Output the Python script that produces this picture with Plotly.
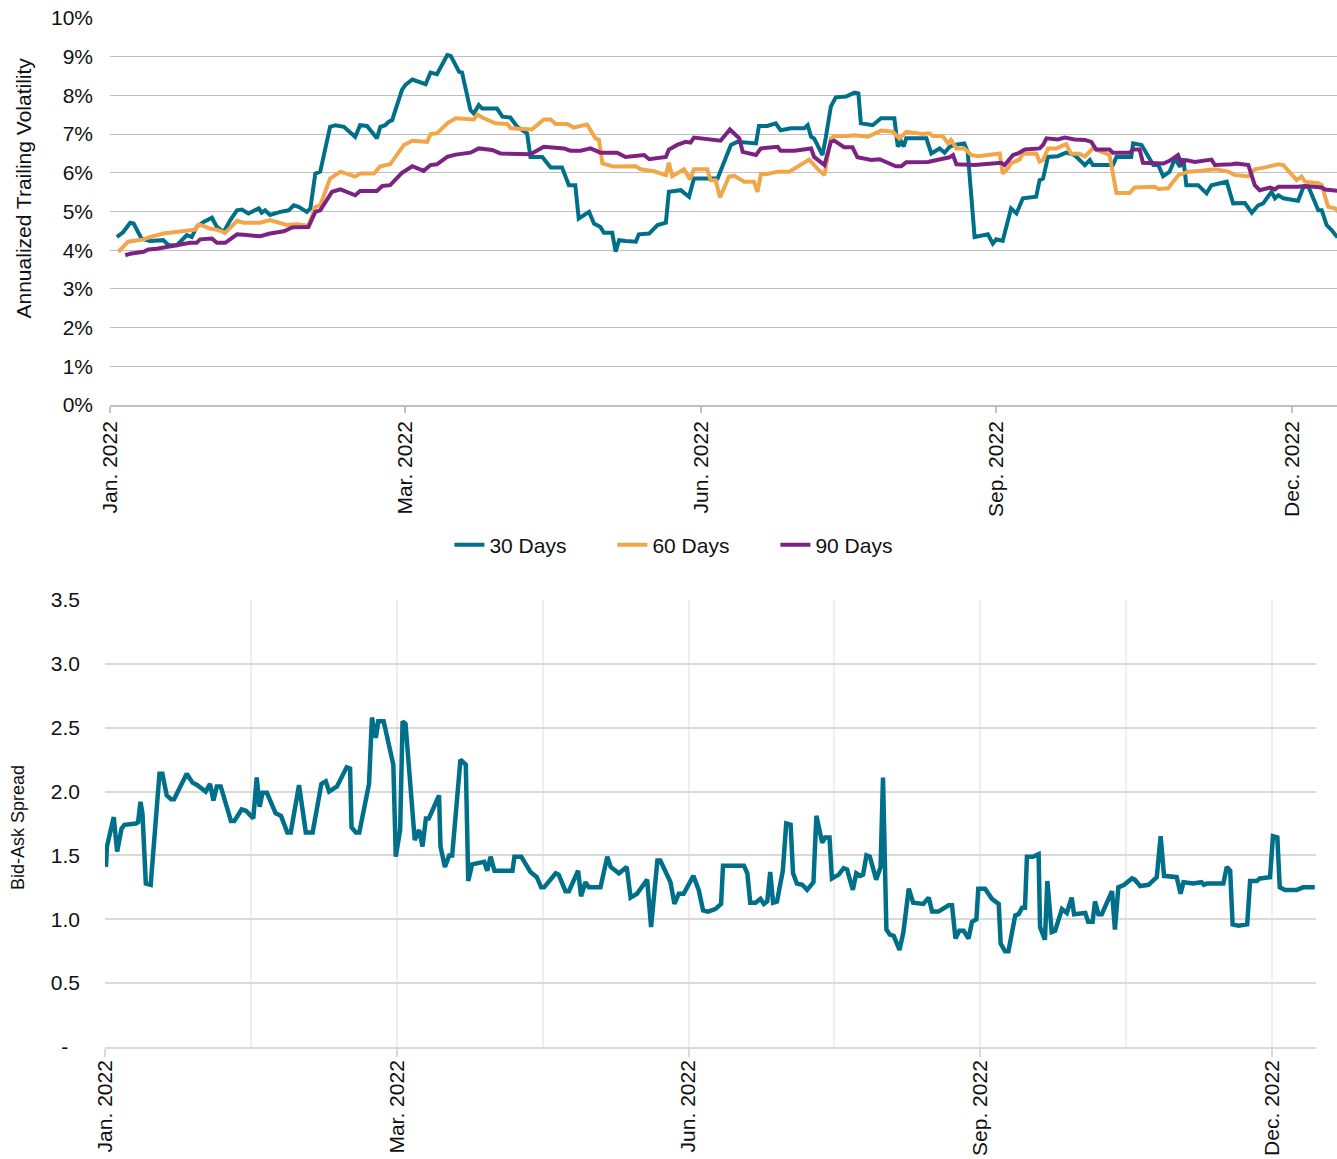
import plotly.graph_objects as go

# ---------------- data ----------------
tick_vals = [0, 60, 120, 180, 240]
tick_labels = ["Jan. 2022", "Mar. 2022", "Jun. 2022", "Sep. 2022", "Dec. 2022"]

vol30_x = [1.4, 2.7, 4.1, 4.8, 6.4, 8.1, 10.8, 11.9, 13.6, 15.6, 16.6, 17.6, 19.0, 20.7, 21.7, 23.1, 24.4, 25.8, 26.8, 28.1,
           30.2, 30.8, 31.5, 32.5, 34.6, 36.3, 37.3, 38.3, 40.0, 40.7, 41.7, 42.7, 44.7, 45.8, 47.5, 49.8, 50.8, 52.2, 54.2, 54.9,
           55.9, 56.6, 57.3, 59.3, 60.0, 61.4, 64.1, 65.1, 66.4, 68.5, 69.2, 70.9, 71.5, 73.2, 73.9, 74.9, 75.6, 78.6, 79.7, 81.3,
           82.7, 84.7, 85.4, 87.8, 89.5, 91.8, 93.2, 94.5, 95.2, 97.3, 98.3, 99.6, 100.3, 102.0, 102.7, 103.4, 104.7, 106.8, 107.4, 109.5,
           111.2, 112.9, 113.5, 115.9, 117.6, 118.6, 123.4, 126.1, 127.4, 131.2, 131.8, 133.5, 135.2, 136.2, 138.3, 141.0, 141.7, 142.4, 143.0, 144.7,
           145.4, 146.4, 147.4, 149.5, 151.2, 152.0, 152.5, 154.9, 156.6, 159.3, 160.0, 160.7, 161.2, 161.7, 165.8, 166.8, 168.5, 169.5, 170.5, 171.5,
           173.5, 174.2, 175.6, 178.3, 179.3, 180.0, 181.3, 183.0, 184.1, 185.4, 188.1, 188.8, 189.5, 190.5, 192.5, 194.2, 195.9, 198.0, 199.0, 199.6,
           203.7, 204.4, 207.4, 207.8, 209.5, 211.9, 212.9, 213.9, 215.2, 216.3, 217.3, 218.0, 218.6, 221.0, 222.7, 223.7, 226.8, 228.1, 230.5, 231.9,
           233.2, 234.2, 235.9, 236.6, 237.3, 238.3, 241.3, 242.4, 243.4, 245.4, 246.1, 247.1, 248.1, 249.1, 249.5]
vol30_y = [4.34, 4.47, 4.71, 4.69, 4.30, 4.24, 4.26, 4.13, 4.13, 4.39, 4.34, 4.60, 4.73, 4.84, 4.60, 4.47, 4.77, 5.03, 5.05, 4.95,
           5.08, 4.97, 5.03, 4.91, 4.99, 5.03, 5.16, 5.12, 4.99, 5.08, 5.98, 6.03, 7.19, 7.23, 7.19, 6.93, 7.23, 7.21, 6.89, 7.19,
           7.23, 7.32, 7.36, 8.14, 8.27, 8.41, 8.29, 8.59, 8.55, 9.04, 9.02, 8.61, 8.59, 7.62, 7.53, 7.75, 7.66, 7.66, 7.45, 7.43,
           7.19, 7.02, 6.41, 6.41, 6.14, 6.14, 5.68, 5.68, 4.82, 4.99, 4.69, 4.60, 4.45, 4.45, 3.96, 4.26, 4.24, 4.22, 4.41, 4.43,
           4.65, 4.71, 5.51, 5.55, 5.38, 5.85, 5.85, 6.72, 6.80, 6.76, 7.21, 7.21, 7.28, 7.10, 7.15, 7.15, 7.23, 6.93, 6.89, 6.46,
           6.93, 7.71, 7.95, 7.97, 8.07, 8.05, 7.28, 7.23, 7.41, 7.41, 6.68, 6.80, 6.68, 6.89, 6.89, 6.50, 6.63, 6.52, 6.67, 6.72,
           6.76, 6.54, 4.34, 4.41, 4.17, 4.28, 4.24, 5.08, 4.95, 5.34, 5.38, 5.81, 5.85, 6.41, 6.43, 6.52, 6.46, 6.20, 6.33, 6.20,
           6.20, 6.41, 6.41, 6.76, 6.72, 6.20, 6.20, 5.91, 6.03, 6.37, 6.16, 6.37, 5.68, 5.68, 5.47, 5.68, 5.77, 5.21, 5.22, 4.97,
           5.16, 5.21, 5.51, 5.34, 5.42, 5.34, 5.28, 5.64, 5.64, 5.03, 5.03, 4.65, 4.52, 4.36, 4.36]

vol60_x = [1.7, 2.7, 3.7, 6.8, 8.1, 10.8, 13.6, 16.3, 17.3, 18.0, 18.7, 20.3, 21.7, 23.4, 25.8, 27.1, 30.5, 32.5, 33.9, 35.9,
           38.0, 40.3, 41.7, 42.7, 44.7, 46.8, 49.8, 50.8, 53.6, 54.9, 56.9, 59.7, 61.4, 64.4, 65.1, 66.4, 68.5, 70.2, 73.9, 74.6,
           75.6, 78.3, 80.7, 81.4, 85.7, 88.1, 89.5, 90.5, 92.9, 94.2, 96.9, 98.6, 99.3, 100.0, 102.3, 106.8, 107.8, 110.5, 112.9, 113.5,
           114.2, 116.6, 117.8, 118.6, 121.3, 122.0, 123.0, 123.9, 125.7, 126.8, 128.8, 130.8, 131.5, 132.2, 133.5, 135.6, 138.0, 140.0, 142.0, 143.7,
           145.1, 146.4, 147.1, 149.8, 151.2, 153.9, 156.6, 159.0, 160.3, 161.7, 165.1, 166.4, 167.1, 169.1, 170.2, 170.8, 171.9, 173.5, 174.9, 176.3,
           178.6, 180.7, 181.3, 182.4, 183.0, 184.7, 185.4, 188.1, 188.8, 189.5, 190.5, 192.2, 194.2, 195.2, 196.9, 198.0, 199.6, 202.0, 203.0, 204.4,
           207.1, 208.1, 210.2, 212.2, 212.9, 214.9, 217.0, 219.0, 221.7, 224.4, 227.1, 228.5, 231.2, 232.5, 234.6, 237.3, 238.3, 240.0, 241.0, 242.0,
           242.7, 245.4, 246.1, 247.4, 248.8, 249.5]
vol60_y = [3.96, 4.09, 4.22, 4.28, 4.34, 4.43, 4.47, 4.53, 4.53, 4.66, 4.64, 4.56, 4.53, 4.45, 4.76, 4.71, 4.71, 4.78, 4.73, 4.65,
           4.67, 4.63, 5.12, 5.16, 5.85, 6.03, 5.90, 5.98, 5.98, 6.17, 6.22, 6.72, 6.83, 6.80, 7.00, 7.02, 7.28, 7.41, 7.38, 7.51,
           7.43, 7.28, 7.26, 7.15, 7.12, 7.38, 7.38, 7.26, 7.26, 7.17, 7.25, 6.89, 6.85, 6.24, 6.16, 6.17, 6.09, 6.04, 5.94, 6.26,
           5.91, 6.09, 5.83, 6.09, 6.09, 5.81, 5.81, 5.36, 5.90, 5.92, 5.77, 5.77, 5.51, 5.97, 5.97, 6.03, 6.03, 6.20, 6.34, 6.10,
           5.94, 6.89, 6.95, 6.95, 6.97, 6.93, 7.09, 7.06, 6.89, 7.06, 7.00, 7.02, 6.95, 6.95, 6.76, 6.85, 6.63, 6.63, 6.46, 6.43,
           6.46, 6.50, 5.98, 6.12, 6.25, 6.34, 6.49, 6.50, 6.29, 6.33, 6.63, 6.63, 6.74, 6.49, 6.49, 6.42, 6.63, 6.52, 6.46, 5.48,
           5.48, 5.62, 5.62, 5.64, 5.58, 5.60, 5.94, 6.03, 6.05, 6.09, 6.03, 5.94, 5.91, 6.09, 6.14, 6.22, 6.20, 5.94, 5.81, 5.90,
           5.77, 5.73, 5.68, 5.12, 5.08, 4.99]

vol90_x = [3.1, 4.1, 6.8, 7.8, 9.5, 11.5, 13.6, 16.3, 17.6, 18.3, 20.7, 21.7, 23.4, 25.8, 27.8, 30.5, 32.5, 35.3, 37.0, 40.3,
           41.7, 42.7, 45.1, 46.8, 49.8, 50.8, 54.2, 55.3, 56.9, 59.3, 61.4, 63.7, 65.1, 66.4, 68.5, 70.2, 73.2, 74.9, 77.6, 79.3,
           85.4, 88.1, 92.2, 93.5, 95.6, 97.6, 99.6, 103.0, 104.7, 107.1, 108.5, 109.5, 112.9, 113.5, 115.2, 116.9, 117.9, 118.6, 121.3, 124.0,
           125.9, 127.8, 128.5, 131.2, 132.2, 135.6, 136.2, 139.0, 142.4, 143.0, 145.1, 146.4, 147.1, 149.1, 150.8, 151.8, 154.6, 156.3, 159.6, 160.7,
           161.7, 166.1, 170.5, 171.2, 171.9, 175.6, 181.0, 181.7, 183.4, 184.4, 185.8, 188.8, 189.5, 190.2, 192.5, 193.9, 195.9, 198.0, 199.3, 200.3,
           203.0, 203.7, 207.1, 207.8, 209.1, 209.8, 213.9, 215.2, 216.9, 217.6, 218.6, 220.3, 223.7, 224.4, 227.8, 228.8, 231.2, 232.5, 233.5, 235.6,
           236.6, 237.3, 241.3, 242.7, 246.1, 246.8, 249.5]
vol90_y = [3.87, 3.91, 3.96, 4.02, 4.04, 4.09, 4.13, 4.19, 4.19, 4.28, 4.30, 4.19, 4.19, 4.41, 4.39, 4.36, 4.43, 4.49, 4.59, 4.60,
           4.99, 5.03, 5.51, 5.57, 5.42, 5.53, 5.53, 5.66, 5.68, 6.00, 6.17, 6.05, 6.20, 6.22, 6.41, 6.47, 6.52, 6.63, 6.59, 6.50,
           6.48, 6.67, 6.63, 6.57, 6.57, 6.63, 6.52, 6.52, 6.41, 6.43, 6.46, 6.35, 6.41, 6.60, 6.72, 6.80, 6.78, 6.91, 6.86, 6.83,
           7.12, 6.89, 6.54, 6.46, 6.63, 6.67, 6.57, 6.57, 6.63, 6.41, 6.20, 6.80, 6.83, 6.66, 6.66, 6.40, 6.33, 6.35, 6.17, 6.17,
           6.27, 6.28, 6.40, 6.46, 6.22, 6.20, 6.26, 6.20, 6.46, 6.50, 6.60, 6.63, 6.72, 6.89, 6.86, 6.91, 6.86, 6.85, 6.80, 6.60,
           6.60, 6.52, 6.52, 6.60, 6.60, 6.26, 6.24, 6.31, 6.46, 6.24, 6.33, 6.28, 6.34, 6.20, 6.22, 6.24, 6.20, 5.68, 5.55, 5.62,
           5.57, 5.64, 5.64, 5.66, 5.62, 5.57, 5.53]

spread_x = [0.2, 0.4, 1.8, 2.5, 3.4, 4.0, 6.4, 6.8, 7.3, 7.7, 8.4, 9.4, 11.2, 11.8, 12.7, 13.6, 14.2, 16.8, 18.0, 19.0,
            20.7, 21.6, 22.3, 23.0, 23.8, 25.9, 26.6, 28.1, 29.0, 30.5, 31.2, 31.8, 32.4, 33.3, 35.1, 36.2, 37.5, 38.2, 39.9, 41.3,
            42.7, 44.5, 45.4, 46.1, 47.7, 49.7, 50.4, 50.7, 51.6, 52.3, 54.3, 54.9, 55.7, 56.2, 57.3, 59.3, 59.8, 60.7, 61.2, 61.8,
            63.7, 64.6, 65.3, 66.0, 66.6, 68.7, 69.0, 69.9, 70.8, 71.4, 73.1, 74.2, 74.7, 75.5, 78.0, 78.6, 79.3, 80.1, 83.8, 84.2,
            85.6, 87.5, 88.8, 89.7, 90.3, 92.7, 93.3, 94.7, 95.4, 97.3, 97.9, 98.8, 99.5, 101.9, 103.3, 104.0, 105.7, 107.3, 108.1, 109.4,
            111.5, 112.3, 113.6, 114.2, 116.3, 117.1, 118.0, 119.0, 121.0, 122.1, 123.0, 124.0, 125.5, 126.7, 127.1, 131.4, 132.1, 132.7, 133.8, 134.8,
            135.5, 136.2, 136.8, 137.4, 138.2, 139.4, 140.1, 141.0, 141.5, 142.3, 143.4, 144.4, 145.7, 146.3, 147.5, 148.1, 149.0, 149.5, 150.9, 151.9,
            152.6, 153.8, 154.5, 155.3, 155.9, 156.6, 157.3, 158.6, 159.5, 160.0, 160.7, 161.4, 162.2, 163.4, 164.2, 165.3, 166.2, 168.3, 169.4, 170.1,
            171.4, 173.5, 174.2, 174.9, 175.7, 176.6, 177.6, 178.3, 179.2, 179.6, 181.0, 182.4, 183.8, 184.2, 185.1, 185.8, 187.2, 187.9, 188.6, 189.2,
            189.6, 190.8, 192.0, 192.3, 193.3, 193.8, 194.7, 195.4, 196.8, 197.8, 198.8, 199.3, 201.6, 202.2, 203.1, 203.6, 204.3, 205.0, 207.1, 207.7,
            208.4, 209.6, 211.2, 211.8, 212.9, 214.6, 216.3, 217.1, 217.8, 220.4, 221.2, 221.8, 223.8, 225.5, 226.0, 226.6, 230.0, 230.7, 231.4, 231.9,
            233.1, 234.9, 235.5, 236.9, 237.5, 239.6, 240.2, 241.1, 241.6, 242.7, 245.1, 246.4, 248.8]
spread_y = [1.41, 1.57, 1.80, 1.53, 1.71, 1.74, 1.75, 1.76, 1.92, 1.83, 1.28, 1.27, 2.14, 2.14, 1.97, 1.94, 1.94, 2.14, 2.07, 2.05,
            2.00, 2.06, 1.93, 2.04, 2.04, 1.77, 1.77, 1.86, 1.85, 1.79, 2.11, 1.88, 1.99, 1.99, 1.83, 1.81, 1.68, 1.68, 2.05, 1.68,
            1.68, 2.06, 2.08, 2.00, 2.04, 2.19, 2.18, 1.72, 1.68, 1.68, 2.06, 2.58, 2.42, 2.55, 2.55, 2.21, 1.49, 1.70, 2.55, 2.53,
            1.62, 1.70, 1.57, 1.79, 1.79, 1.97, 1.57, 1.41, 1.50, 1.50, 2.25, 2.21, 1.30, 1.43, 1.45, 1.38, 1.49, 1.38, 1.38, 1.49,
            1.49, 1.37, 1.33, 1.25, 1.25, 1.36, 1.35, 1.22, 1.22, 1.38, 1.18, 1.29, 1.25, 1.25, 1.49, 1.41, 1.36, 1.41, 1.17, 1.20,
            1.31, 0.94, 1.46, 1.46, 1.29, 1.12, 1.20, 1.20, 1.34, 1.23, 1.07, 1.06, 1.08, 1.12, 1.42, 1.42, 1.36, 1.13, 1.13, 1.16,
            1.12, 1.14, 1.37, 1.13, 1.14, 1.38, 1.75, 1.74, 1.36, 1.28, 1.27, 1.23, 1.29, 1.81, 1.60, 1.64, 1.64, 1.32, 1.35, 1.40,
            1.39, 1.23, 1.36, 1.34, 1.35, 1.50, 1.49, 1.31, 1.41, 2.11, 0.92, 0.88, 0.87, 0.76, 0.90, 1.24, 1.13, 1.12, 1.17, 1.06,
            1.06, 1.11, 1.11, 0.85, 0.91, 0.91, 0.85, 0.98, 1.00, 1.24, 1.24, 1.16, 1.12, 0.81, 0.75, 0.75, 1.03, 1.04, 1.09, 1.09,
            1.49, 1.49, 1.51, 0.94, 0.84, 1.30, 0.90, 0.91, 1.08, 1.05, 1.17, 1.04, 1.05, 0.98, 0.98, 1.14, 1.04, 1.04, 1.22, 0.92,
            1.25, 1.27, 1.32, 1.31, 1.26, 1.27, 1.33, 1.65, 1.34, 1.33, 1.20, 1.29, 1.28, 1.29, 1.27, 1.28, 1.28, 1.41, 1.38, 0.96,
            0.95, 0.96, 1.30, 1.30, 1.32, 1.33, 1.65, 1.64, 1.25, 1.23, 1.23, 1.25, 1.25]

vol_ticks = list(range(0, 11))
vol_tick_labels = [f"{v}%" for v in vol_ticks]
spread_ticks = [0, 0.5, 1.0, 1.5, 2.0, 2.5, 3.0, 3.5]
spread_tick_labels = ["-\u00a0\u00a0", "0.5", "1.0", "1.5", "2.0", "2.5", "3.0", "3.5"]

# ---------------- figure ----------------
W, H = 1337, 1159
FONT = "Liberation Sans, Arial, sans-serif"
TEAL, ORANGE, PURPLE = "#006F89", "#F2A64A", "#7B2283"

fig = go.Figure()
for name, xs, ys, col in [("30 Days", vol30_x, vol30_y, TEAL),
                          ("60 Days", vol60_x, vol60_y, ORANGE),
                          ("90 Days", vol90_x, vol90_y, PURPLE)]:
    fig.add_trace(go.Scatter(x=xs, y=ys, name=name, mode="lines",
                             line=dict(color=col, width=4), xaxis="x", yaxis="y"))

fig.add_trace(go.Scatter(x=spread_x, y=spread_y, name="Bid-Ask Spread", mode="lines",
                         line=dict(color=TEAL, width=4.5), xaxis="x2", yaxis="y2",
                         showlegend=False))

tickfont = dict(family=FONT, size=21, color="#111111")

fig.update_layout(
    width=W, height=H,
    margin=dict(l=0, r=0, t=0, b=0),
    paper_bgcolor="white", plot_bgcolor="white",
    font=dict(family=FONT, size=21, color="#111111"),
    showlegend=True,
    legend=dict(orientation="h", x=0.519, xanchor="center", y=1 - 545 / H, yanchor="middle",
                font=dict(family=FONT, size=21, color="#111111"), entrywidth=118,
                bgcolor="rgba(0,0,0,0)"),
    xaxis=dict(domain=[110 / W, 1.0], range=[0, 249.2], anchor="y",
               tickmode="array", tickvals=tick_vals, ticktext=tick_labels, tickangle=-90,
               showline=True, linecolor="#BFBFBF", linewidth=1.5,
               ticks="outside", ticklen=6, tickcolor="#BFBFBF", tickwidth=1.5,
               showgrid=False, zeroline=False, tickfont=tickfont, automargin=False),
    yaxis=dict(domain=[1 - 405 / H, 1 - 18 / H], range=[0, 10], anchor="x",
               tickmode="array", tickvals=vol_ticks, ticktext=vol_tick_labels,
               showgrid=True, gridcolor="#BFBFBF", gridwidth=1.3,
               zeroline=False, showline=False, ticks="", ticklabelstandoff=16,
               tickfont=tickfont, automargin=False),
    xaxis2=dict(domain=[105 / W, 1316 / W], range=[0, 249.05], anchor="y2",
                tickmode="array", tickvals=tick_vals, ticktext=tick_labels, tickangle=-90,
                showline=True, linecolor="#D9D9D9", linewidth=1.5,
                ticks="outside", ticklen=8, tickcolor="#D9D9D9", tickwidth=1.5,
                ticklabelstandoff=-5,
                showgrid=True, gridcolor="#EEEEEE", gridwidth=2,
                minor=dict(tickmode="array", tickvals=[30, 90, 150, 210], showgrid=True,
                           gridcolor="#EEEEEE", gridwidth=2, ticks=""),
                zeroline=False, tickfont=tickfont, automargin=False),
    yaxis2=dict(domain=[1 - 1047 / H, 1 - 600 / H], range=[0, 3.5], anchor="x2",
                tickmode="array", tickvals=spread_ticks, ticktext=spread_tick_labels,
                showgrid=True, gridcolor="#D9D9D9", gridwidth=1.5,
                zeroline=False, showline=False, ticks="", ticklabelstandoff=24,
                tickfont=tickfont, automargin=False),
    annotations=[
        dict(text="Annualized Trailing Volatility", textangle=-90, xref="paper", yref="paper",
             x=23 / W, y=1 - 188.5 / H, xanchor="center", yanchor="middle", showarrow=False,
             font=dict(family=FONT, size=21, color="#111111")),
        dict(text="Bid-Ask Spread", textangle=-90, xref="paper", yref="paper",
             x=18 / W, y=1 - 828 / H, xanchor="center", yanchor="middle", showarrow=False,
             font=dict(family=FONT, size=18, color="#111111")),
    ],
)

fig.write_html("out.html", config={"displayModeBar": False},
               post_script="document.body.style.margin='0';document.body.style.overflow='hidden';")
